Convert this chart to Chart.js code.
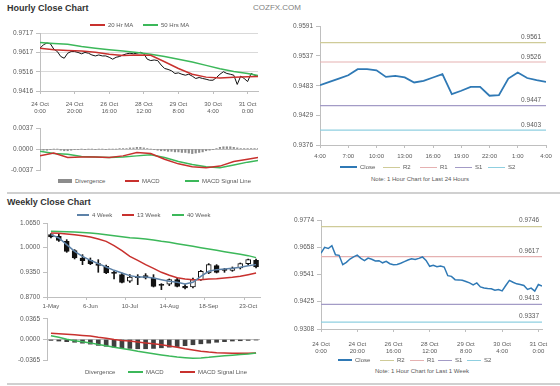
<!DOCTYPE html>
<html>
<head>
<meta charset="utf-8">
<script src="https://cdn.jsdelivr.net/npm/chart.js@4.4.1/dist/chart.umd.min.js"></script>
<style>
  body { margin: 0; background: #fff; font-family: "Liberation Sans", Arial, sans-serif; }
  #page { position: relative; width: 560px; height: 386px; overflow: hidden; }
  canvas { position: absolute; }
  .title { position: absolute; font-size: 9px; font-weight: bold; color: #333; white-space: nowrap; }
  .rule { position: absolute; left: 7px; right: 0; height: 2px; background: #d0d0d0; }
  .legend { position: absolute; height: 8px; font-size: 6px; color: #595959; }
  .legend span { position: absolute; top: 0; display: flex; align-items: center; height: 8px; white-space: nowrap; }
  .legend i { display: inline-block; margin-right: 3px; }
  .note { position: absolute; width: 200px; text-align: center; font-size: 6px; color: #595959; }
</style>
</head>
<body>
<div id="page">
  <div class="title" style="left:7px; top:3px;">Hourly Close Chart</div>
  <div class="title" style="left:253px; top:3px; font-size:8px; font-weight:normal; color:#808080;">COZFX.COM</div>
  <div class="rule" style="top:192px;"></div>
  <div class="title" style="left:7px; top:197px;">Weekly Close Chart</div>
  <div class="rule" style="top:383px;"></div>

  <canvas id="hourlyChart" width="268" height="101" style="left:0; top:15px;"></canvas>
  <canvas id="hourlyMacdChart" width="268" height="56" style="left:0; top:121px;"></canvas>
  <canvas id="dayPivotChart" width="288" height="146" style="left:272px; top:15px;"></canvas>
  <canvas id="weeklyChart" width="270" height="106" style="left:0; top:207px;"></canvas>
  <canvas id="weeklyMacdChart" width="270" height="55" style="left:0; top:312px;"></canvas>
  <canvas id="weekPivotChart" width="288" height="146" style="left:272px; top:207px;"></canvas>

  <div class="note" style="left:320px; top:176px;">Note: 1 Hour Chart for Last 24 Hours</div>
  <div class="note" style="left:322px; top:368px;">Note: 1 Hour Chart for Last 1 Week</div>
</div>

<script>
/* -------- DATA -------- */
// hourly close chart, x = hours from 24 Oct 0:00 (weekend skipped)
let hourTicks = [0, 20, 40, 60, 80, 100, 120];
let hourTickLabels = [["24 Oct", "0:00"], ["24 Oct", "20:00"], ["26 Oct", "16:00"], ["28 Oct", "12:00"],
                      ["29 Oct", "8:00"], ["30 Oct", "4:00"], ["31 Oct", "0:00"]];
let hourlyTicksY = [0.9717, 0.9617, 0.9516, 0.9416];

// close, one value every 2 hours
let hourlyClose = [0.9638, 0.9656, 0.9665, 0.9661, 0.9633, 0.9621, 0.9595, 0.9586, 0.9612, 0.9621,
                   0.9621, 0.9616, 0.9609, 0.9616, 0.9612, 0.9603, 0.9598, 0.9603, 0.9598, 0.9598,
                   0.9591, 0.9581, 0.9591, 0.9595, 0.9603, 0.9609, 0.9612, 0.9609, 0.9612, 0.9617,
                   0.9609, 0.9581, 0.9574, 0.9577, 0.9574, 0.9551, 0.9533, 0.9528, 0.9521, 0.9507,
                   0.9510, 0.9503, 0.9498, 0.9503, 0.9493, 0.9481, 0.9486, 0.9481, 0.9477, 0.9472,
                   0.9472, 0.9486, 0.9503, 0.9516, 0.9507, 0.9503, 0.9498, 0.9450, 0.9493, 0.9481,
                   0.9465, 0.9507, 0.9498, 0.9493];

let maHours = [0, 8, 16, 24, 32, 40, 48, 56, 64, 72, 80, 88, 96, 104, 112, 120, 126];
let hourlyMa20 = [0.9638, 0.9630, 0.9626, 0.9623, 0.9617, 0.9607, 0.9600, 0.9603, 0.9601, 0.9568,
                  0.9533, 0.9503, 0.9488, 0.9484, 0.9488, 0.9490, 0.9491];
let hourlyMa50 = [0.9668, 0.9663, 0.9658, 0.9647, 0.9638, 0.9630, 0.9623, 0.9616, 0.9607, 0.9595,
                  0.9581, 0.9567, 0.9549, 0.9531, 0.9517, 0.9507, 0.9496];

let hourlyMacdTicksY = [0.0037, 0, -0.0037];
let hourlyMacd = [-0.0012, -0.0007, -0.0015, -0.0014, -0.0014, -0.0015, -0.0012, -0.0006, -0.0008,
                  -0.0018, -0.0026, -0.0031, -0.0033, -0.0030, -0.0022, -0.0018, -0.0015];
let hourlySignal = [-0.0004, -0.0008, -0.0009, -0.0013, -0.0014, -0.0015, -0.0014, -0.0012, -0.0010,
                    -0.0015, -0.0022, -0.0027, -0.0031, -0.0033, -0.0028, -0.0023, -0.0020];
// divergence, one value every 2 hours
let hourlyDivergence = [-0.0001, -0.0002, -0.0002, -0.0001, 0, 0,
                        -0.0002, -0.0003, -0.0003, -0.0002, -0.0001, -0.0001,
                        0, -0.0001, 0, 0, -0.0001, 0, 0, -0.0001, 0, 0, 0, 0.0001, 0.0001, 0.0001,
                        0.0002, 0.0002, 0.0003, 0.0003, 0.0002, 0.0001,
                        0, -0.0001, -0.0002,
                        -0.0003, -0.0003, -0.0004, -0.0004, -0.0005, -0.0005, -0.0006, -0.0006, -0.0007, -0.0008, -0.0007, -0.0006,
                        -0.0005, -0.0003, -0.0002, -0.0001, 0.0001,
                        0.0003, 0.0004, 0.0004, 0.0004, 0.0003, 0.0002,
                        0.0001, 0.0001, 0.0001, 0.0001, 0.0001, 0.0001];

// last 24 hours with pivot levels
let dayTicks = [0, 3, 6, 9, 12, 15, 18, 21, 24];
let dayTickLabels = ["4:00", "7:00", "10:00", "13:00", "16:00", "19:00", "22:00", "1:00", "4:00"];
let dayTicksY = [0.9591, 0.9537, 0.9483, 0.9429, 0.9376];
let dayClose = [0.9484, 0.9490, 0.9496, 0.9502, 0.9513, 0.9513, 0.9511, 0.9499, 0.9501, 0.9498,
                0.9489, 0.9492, 0.9498, 0.9504, 0.9468, 0.9474, 0.9481, 0.9481, 0.9465, 0.9466,
                0.9496, 0.9507, 0.9497, 0.9493, 0.9490];
let pivotNames = ["R2", "R1", "S1", "S2"];
let dayPivots = [0.9561, 0.9526, 0.9447, 0.9403];

// last week hourly with pivot levels, one value every 2 hours
let weekHourTicksY = [0.9774, 0.9658, 0.9541, 0.9425, 0.9308];
let weekHourClose = [0.9632, 0.9657, 0.9652, 0.9664, 0.9625, 0.9623, 0.9583, 0.9593, 0.9607, 0.9616,
                     0.9624, 0.9610, 0.9600, 0.9611, 0.9606, 0.9599, 0.9600, 0.9591, 0.9597, 0.9587,
                     0.9583, 0.9584, 0.9589, 0.9596, 0.9603, 0.9608, 0.9605, 0.9610, 0.9616, 0.9601,
                     0.9576, 0.9580, 0.9574, 0.9577, 0.9573, 0.9536, 0.9533, 0.9519, 0.9518, 0.9516,
                     0.9511, 0.9505, 0.9497, 0.9505, 0.9488, 0.9483, 0.9481, 0.9480, 0.9474, 0.9477,
                     0.9471, 0.9494, 0.9516, 0.9508, 0.9501, 0.9498, 0.9494, 0.9477, 0.9483, 0.9470,
                     0.9498, 0.9492];
let weekPivots = [0.9746, 0.9617, 0.9413, 0.9337];

// weekly candles
let weekTickLabels = ["1-May", "6-Jun", "10-Jul", "14-Aug", "18-Sep", "23-Oct"];
let weeklyTicksY = [1.0650, 1.0000, 0.9350, 0.8700];
let weekOpen  = [1.0343, 1.0299, 1.0167, 0.9921, 0.9728, 0.9667, 0.9579, 0.9509, 0.9351, 0.9289,
                 0.9114, 0.9245, 0.9263, 0.9201, 0.9035, 0.9035, 0.9157, 0.8982, 0.8964, 0.9157,
                 0.9333, 0.9526, 0.9430, 0.9403, 0.9465, 0.9579, 0.9667];
let weekClose = [1.0281, 1.0193, 0.9904, 0.9728, 0.9658, 0.9579, 0.9535, 0.9333, 0.9324, 0.9087,
                 0.9228, 0.9210, 0.9201, 0.8982, 0.9008, 0.9157, 0.8982, 0.8938, 0.9157, 0.9377,
                 0.9553, 0.9351, 0.9403, 0.9465, 0.9579, 0.9684, 0.9491];
let weekHigh  = [1.0369, 1.0369, 1.0211, 0.9948, 0.9816, 0.9728, 0.9684, 0.9544, 0.9377, 0.9333,
                 0.9289, 0.9289, 0.9316, 0.9289, 0.9052, 0.9175, 0.9201, 0.9026, 0.9201, 0.9403,
                 0.9579, 0.9553, 0.9456, 0.9491, 0.9596, 0.9702, 0.9702];
let weekLow   = [1.0255, 1.0167, 0.9877, 0.9702, 0.9553, 0.9553, 0.9351, 0.9316, 0.9175, 0.9070,
                 0.9087, 0.9026, 0.9175, 0.8964, 0.8894, 0.9000, 0.8964, 0.8912, 0.8938, 0.9140,
                 0.9316, 0.9333, 0.9351, 0.9377, 0.9438, 0.9553, 0.9465];
let weekMa4  = [1.0343, 1.0255, 1.0079, 0.9904, 0.9772, 0.9667, 0.9579, 0.9491, 0.9403, 0.9333,
                0.9263, 0.9228, 0.9228, 0.9201, 0.9157, 0.9114, 0.9087, 0.9043, 0.9087, 0.9245,
                0.9377, 0.9421, 0.9438, 0.9456, 0.9482, 0.9526, 0.9553];
let weekMa13 = [1.0387, 1.0378, 1.0360, 1.0343, 1.0317, 1.0281, 1.0229, 1.0167, 1.0053, 0.9921,
                0.9772, 0.9667, 0.9553, 0.9456, 0.9351, 0.9272, 0.9210, 0.9175, 0.9157, 0.9157,
                0.9175, 0.9184, 0.9201, 0.9219, 0.9245, 0.9289, 0.9333];
let weekMa40 = [1.0431, 1.0427, 1.0422, 1.0413, 1.0400, 1.0387, 1.0369, 1.0343, 1.0317, 1.0290,
                1.0264, 1.0246, 1.0229, 1.0202, 1.0167, 1.0141, 1.0106, 1.0071, 1.0035, 1.0000,
                0.9965, 0.9930, 0.9895, 0.9860, 0.9825, 0.9790, 0.9737];

let weeklyMacdTicksY = [0.0365, 0, -0.0365];
let weekMacd   = [0.0065, 0.0038, 0.0005, -0.0022, -0.0038, -0.0060, -0.0087, -0.0109, -0.0136, -0.0158,
                  -0.0180, -0.0207, -0.0229, -0.0251, -0.0273, -0.0294, -0.0311, -0.0322, -0.0333, -0.0327,
                  -0.0316, -0.0300, -0.0289, -0.0278, -0.0267, -0.0256, -0.0240];
let weekSignal = [0.0109, 0.0104, 0.0093, 0.0082, 0.0071, 0.0060, 0.0038, 0.0022, 0.0000, -0.0016,
                  -0.0027, -0.0044, -0.0060, -0.0076, -0.0093, -0.0114, -0.0136, -0.0164, -0.0185, -0.0207,
                  -0.0223, -0.0234, -0.0240, -0.0245, -0.0245, -0.0245, -0.0240];
let weekDivergence = [-0.0016, -0.0027, -0.0038, -0.0049, -0.0065, -0.0082, -0.0104, -0.0120, -0.0136, -0.0147,
                      -0.0158, -0.0164, -0.0164, -0.0158, -0.0147, -0.0136, -0.0125, -0.0109, -0.0093, -0.0076,
                      -0.0065, -0.0049, -0.0038, -0.0027, -0.0022, -0.0016, -0.0010];

/* -------- SETUP -------- */
Chart.defaults.font.family = '"Liberation Sans", Arial, sans-serif';
Chart.defaults.font.size = 6.5;
Chart.defaults.color = "#595959";
Chart.defaults.animation = false;
Chart.defaults.responsive = false;
Chart.defaults.devicePixelRatio = 1;
Chart.defaults.plugins.legend.display = false;
Chart.defaults.plugins.tooltip.enabled = false;
Chart.defaults.elements.point.radius = 0;
Chart.defaults.elements.line.tension = 0;

const axisGray = "#bfbfbf";
const red = "#c8312e";
const green = "#3cb85a";
const pivotColors = ["#cfcb98", "#e5b1b1", "#a39bc6", "#8fcfe0"];

const pts = (xs, ys) => ys.map((y, i) => ({ x: xs[i], y: y }));
const everyTwo = arr => arr.map((_, i) => i * 2);
const fixedTicks = values => scale => { scale.ticks = values.map(v => ({ value: v })); };
const fixW = w => scale => { scale.width = w; };
const fixH = h => scale => { scale.height = h; };

// value text above each pivot line
const levelText = {
    id: "levelText",
    afterDatasetsDraw(chart, args, opts) {
        const { ctx, chartArea, scales } = chart;
        ctx.save();
        ctx.font = '6.5px "Liberation Sans", Arial, sans-serif';
        ctx.fillStyle = "#595959";
        ctx.textAlign = "right";
        ctx.textBaseline = "middle";
        opts.levels.forEach(v => {
            ctx.fillText(v.toFixed(4), chartArea.right - opts.inset, scales.y.getPixelForValue(v) - opts.lift);
        });
        ctx.restore();
    }
};

// small html legend built from the chart's datasets
function addLegend(chart, indexes, xs, centerY, swatch) {
    const box = document.createElement("div");
    box.className = "legend";
    box.style.left = "0px";
    box.style.top = (centerY - 4) + "px";
    indexes.forEach((di, k) => {
        const ds = chart.data.datasets[di];
        const item = document.createElement("span");
        item.style.left = xs[k] + "px";
        const sw = document.createElement("i");
        sw.style.width = swatch + "px";
        if (ds.type === "bar") {
            sw.style.height = "4px";
            sw.style.background = ds.backgroundColor;
        } else {
            sw.style.height = Math.max(1, Math.round(ds.borderWidth)) + "px";
            sw.style.background = ds.borderColor;
        }
        item.append(sw, ds.label);
        box.append(item);
    });
    document.getElementById("page").append(box);
}

function priceAxisY(ticks, width, gridColor) {
    return {
        min: ticks[ticks.length - 1], max: ticks[0],
        afterBuildTicks: fixedTicks(ticks), afterFit: fixW(width),
        ticks: { callback: v => v.toFixed(4), padding: 3 },
        grid: { color: gridColor, drawOnChartArea: gridColor !== null, tickColor: axisGray, tickLength: 4 },
        border: { color: axisGray }
    };
}

function macdAxisY(ticks, width) {
    return {
        min: ticks[2], max: ticks[0],
        afterBuildTicks: fixedTicks(ticks), afterFit: fixW(width),
        ticks: { callback: v => v.toFixed(4), padding: 3 },
        grid: { color: c => (c.tick && c.tick.value === 0 ? axisGray : "rgba(0,0,0,0)"), tickColor: axisGray, tickLength: 4 },
        border: { color: axisGray }
    };
}

function hourAxisX(max, height, labelPad) {
    return {
        type: "linear", min: 0, max: max, offset: false,
        afterBuildTicks: fixedTicks(hourTicks), afterFit: fixH(height),
        ticks: { callback: (v, i) => hourTickLabels[i], font: { size: 6, lineHeight: 1.3 }, padding: labelPad,
                 maxRotation: 0, autoSkip: false },
        grid: { drawOnChartArea: false, color: axisGray, tickLength: 3 },
        border: { color: axisGray }
    };
}

/* -------- HOURLY CLOSE CHART -------- */
let hourlyChart = new Chart(document.getElementById("hourlyChart"), {
    type: "line",
    data: {
        datasets: [
            { label: "20 Hr MA", data: pts(maHours, hourlyMa20), borderColor: red, borderWidth: 1.5, order: 0 },
            { label: "50 Hrs MA", data: pts(maHours, hourlyMa50), borderColor: green, borderWidth: 1.5, order: 1 },
            { label: "Close", data: pts(everyTwo(hourlyClose), hourlyClose), borderColor: "#111", borderWidth: 1, order: 2 }
        ]
    },
    options: {
        layout: { padding: { top: 18, right: 10, bottom: 0, left: 0 } },
        scales: {
            x: hourAxisX(126, 25, 6),
            y: priceAxisY(hourlyTicksY, 40, "#d9d9d9")
        }
    }
});
addLegend(hourlyChart, [0, 1], [90, 143], 25, 15);

/* -------- HOURLY MACD -------- */
let hourlyMacdChart = new Chart(document.getElementById("hourlyMacdChart"), {
    type: "line",
    data: {
        datasets: [
            { type: "bar", label: "Divergence", data: pts(everyTwo(hourlyDivergence), hourlyDivergence),
              backgroundColor: "#8c8c8c", barThickness: 1.5, order: 2 },
            { label: "MACD", data: pts(maHours, hourlyMacd), borderColor: red, borderWidth: 1.5, order: 0 },
            { label: "MACD Signal Line", data: pts(maHours, hourlySignal), borderColor: green, borderWidth: 1.5, order: 1 }
        ]
    },
    options: {
        layout: { padding: { top: 7, right: 10, bottom: 4, left: 0 } },
        scales: {
            x: { type: "linear", min: 0, max: 126, offset: false, display: false },
            y: macdAxisY(hourlyMacdTicksY, 40)
        }
    }
});
addLegend(hourlyMacdChart, [0, 1, 2], [58, 125, 185], 180.5, 14);

/* -------- LAST 24 HOURS PIVOTS -------- */
let dayHours = dayClose.map((_, i) => i);
let dayPivotChart = new Chart(document.getElementById("dayPivotChart"), {
    type: "line",
    data: {
        datasets: [
            { label: "Close", data: pts(dayHours, dayClose), borderColor: "#2f79b5", borderWidth: 1.8 }
        ].concat(dayPivots.map((v, k) => ({
            label: pivotNames[k], data: [{ x: 0, y: v }, { x: 24, y: v }],
            borderColor: pivotColors[k], borderWidth: 1.2
        })))
    },
    options: {
        layout: { padding: { top: 11, right: 14, bottom: 0, left: 0 } },
        plugins: { levelText: { levels: dayPivots, inset: 5, lift: 5 } },
        scales: {
            x: {
                type: "linear", min: 0, max: 24, offset: false,
                afterBuildTicks: fixedTicks(dayTicks), afterFit: fixH(16),
                ticks: { callback: (v, i) => dayTickLabels[i], font: { size: 6 }, padding: 5, maxRotation: 0, autoSkip: false },
                grid: { drawOnChartArea: false, color: axisGray, tickLength: 3 },
                border: { color: axisGray }
            },
            y: priceAxisY(dayTicksY, 48, null)
        }
    },
    plugins: [levelText]
});
addLegend(dayPivotChart, [0, 1, 2, 3, 4], [340, 383, 420, 455, 488], 167, 17);

/* -------- WEEKLY CLOSE CHART -------- */
let weekLabels = weekOpen.map((_, i) => (i % 5 === 0 ? weekTickLabels[i / 5] : ""));
let weeklyChart = new Chart(document.getElementById("weeklyChart"), {
    type: "bar",
    data: {
        labels: weekLabels,
        datasets: [
            { type: "line", label: "4 Week", data: weekMa4, borderColor: "#5d82a8", borderWidth: 1.5, order: 0 },
            { type: "line", label: "13 Week", data: weekMa13, borderColor: red, borderWidth: 1.5, order: 1 },
            { type: "line", label: "40 Week", data: weekMa40, borderColor: green, borderWidth: 1.5, order: 2 },
            { label: "Candle", data: weekOpen.map((o, i) => [o, weekClose[i]]),
              backgroundColor: weekOpen.map((o, i) => (weekClose[i] >= o ? "#ffffff" : "#111111")),
              borderColor: "#111", borderWidth: 1, borderSkipped: false, barThickness: 5, grouped: false, order: 3 },
            { label: "Range", data: weekLow.map((l, i) => [l, weekHigh[i]]),
              backgroundColor: "#111", barThickness: 1, grouped: false, order: 4 }
        ]
    },
    options: {
        layout: { padding: { top: 16, right: 10, bottom: 0, left: 0 } },
        scales: {
            x: {
                offset: true, afterFit: fixH(16),
                ticks: { font: { size: 6 }, padding: 3, maxRotation: 0, autoSkip: false },
                grid: { drawOnChartArea: false, offset: true, tickLength: 3,
                        tickColor: c => (c.index % 5 === 0 ? axisGray : "rgba(0,0,0,0)") },
                border: { color: axisGray }
            },
            y: priceAxisY(weeklyTicksY, 47, null)
        }
    }
});
addLegend(weeklyChart, [0, 1, 2], [77, 122, 172], 215, 12);

/* -------- WEEKLY MACD -------- */
let weeklyMacdChart = new Chart(document.getElementById("weeklyMacdChart"), {
    type: "bar",
    data: {
        labels: weekLabels,
        datasets: [
            { label: "Divergence", data: weekDivergence, backgroundColor: "#404040", barThickness: 4, order: 2 },
            { type: "line", label: "MACD", data: weekMacd, borderColor: green, borderWidth: 1.5, order: 0 },
            { type: "line", label: "MACD Signal Line", data: weekSignal, borderColor: red, borderWidth: 1.5, order: 1 }
        ]
    },
    options: {
        layout: { padding: { top: 6, right: 10, bottom: 4, left: 0 } },
        scales: {
            x: { offset: true, display: false },
            y: macdAxisY(weeklyMacdTicksY, 47)
        }
    }
});
addLegend(weeklyMacdChart, [0, 1, 2], [67, 128, 180], 371.5, 15);

/* -------- LAST WEEK PIVOTS -------- */
let weekPivotChart = new Chart(document.getElementById("weekPivotChart"), {
    type: "line",
    data: {
        datasets: [
            { label: "Close", data: pts(everyTwo(weekHourClose), weekHourClose), borderColor: "#2f79b5", borderWidth: 1.5 }
        ].concat(weekPivots.map((v, k) => ({
            label: pivotNames[k], data: [{ x: 0, y: v }, { x: 122, y: v }],
            borderColor: pivotColors[k], borderWidth: 1.2
        })))
    },
    options: {
        layout: { padding: { top: 13, right: 18, bottom: 0, left: 0 } },
        plugins: { levelText: { levels: weekPivots, inset: 3, lift: 6 } },
        scales: {
            x: hourAxisX(122, 24, 8),
            y: priceAxisY(weekHourTicksY, 49, null)
        }
    },
    plugins: [levelText]
});
addLegend(weekPivotChart, [0, 1, 2, 3, 4], [338, 380, 410, 438, 467], 360, 14);
</script>
</body>
</html>
